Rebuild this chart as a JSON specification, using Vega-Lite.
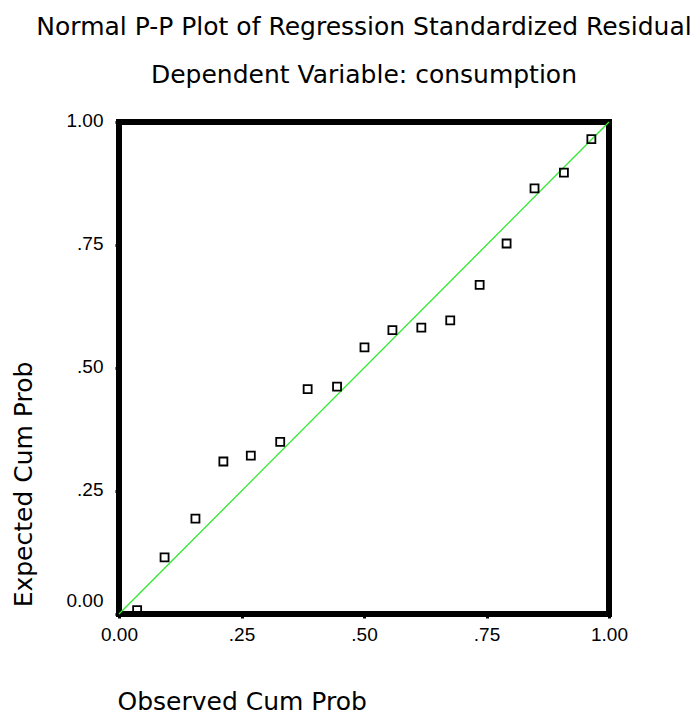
{
  "$schema": "https://vega.github.io/schema/vega-lite/v6.json",
  "width": 490,
  "height": 492,
  "autosize": {"type": "none"},
  "padding": {"left": 119, "top": 122, "right": 89, "bottom": 105},
  "background": "white",
  "title": {
    "text": ["Normal P-P Plot of Regression Standardized Residual", "Dependent Variable: consumption"],
    "anchor": "middle",
    "frame": "group",
    "font": "DejaVu Sans",
    "fontSize": 25,
    "fontWeight": "normal",
    "color": "black",
    "lineHeight": 48,
    "baseline": "alphabetic",
    "offset": 3
  },
  "config": {
    "view": {"stroke": "black", "strokeWidth": 6},
    "axis": {
      "labelFont": "Liberation Sans",
      "labelFontSize": 19,
      "labelColor": "black",
      "titleFont": "DejaVu Sans",
      "titleFontSize": 25,
      "titleFontWeight": "normal",
      "titleColor": "black",
      "grid": false,
      "domain": false,
      "tickColor": "black",
      "tickSize": 4,
      "tickWidth": 3
    }
  },
  "layer": [
    {
      "data": {"values": [{"x": 0, "y": 0}, {"x": 1, "y": 1}]},
      "mark": {"type": "line", "color": "#2ee82e", "strokeWidth": 1.3},
      "encoding": {
        "x": {"field": "x", "type": "quantitative"},
        "y": {"field": "y", "type": "quantitative"}
      }
    },
    {
      "data": {"values": [
        {"observed": 0.037, "expected": 0.008},
        {"observed": 0.093, "expected": 0.115},
        {"observed": 0.156, "expected": 0.194},
        {"observed": 0.213, "expected": 0.310},
        {"observed": 0.269, "expected": 0.322},
        {"observed": 0.329, "expected": 0.350},
        {"observed": 0.385, "expected": 0.457},
        {"observed": 0.445, "expected": 0.462},
        {"observed": 0.501, "expected": 0.542},
        {"observed": 0.558, "expected": 0.577},
        {"observed": 0.617, "expected": 0.582},
        {"observed": 0.676, "expected": 0.597},
        {"observed": 0.736, "expected": 0.669},
        {"observed": 0.791, "expected": 0.753},
        {"observed": 0.848, "expected": 0.865},
        {"observed": 0.908, "expected": 0.897},
        {"observed": 0.964, "expected": 0.965}
      ]},
      "mark": {"type": "point", "shape": "square", "filled": false, "stroke": "black", "strokeWidth": 1.8, "size": 64, "opacity": 1},
      "encoding": {
        "x": {
          "field": "observed", "type": "quantitative",
          "scale": {"domain": [0, 1], "nice": false, "zero": false},
          "axis": {
            "title": "Observed Cum Prob",
            "values": [0, 0.25, 0.5, 0.75, 1],
            "labelExpr": "datum.value == 0 ? '0.00' : datum.value == 1 ? '1.00' : replace(format(datum.value, '.2f'), '0.', '.')",
            "labelPadding": 7,
            "labelFlush": false,
            "labelOverlap": false,
            "titleAnchor": "start",
            "titleAlign": "left",
            "titleBaseline": "alphabetic",
            "titleX": -2,
            "titleY": 95
          }
        },
        "y": {
          "field": "expected", "type": "quantitative",
          "scale": {"domain": [0, 1], "nice": false, "zero": false},
          "axis": {
            "title": "Expected Cum Prob",
            "values": [0, 0.25, 0.5, 0.75, 1],
            "labelExpr": "datum.value == 0 ? '0.00' : datum.value == 1 ? '1.00' : replace(format(datum.value, '.2f'), '0.', '.')",
            "labelPadding": 12,
            "labelFlush": false,
            "labelOverlap": false,
            "labelOffset": {"condition": {"test": "datum.value == 0", "value": -14}, "value": -2},
            "titleAngle": -90,
            "titleAlign": "center",
            "titleBaseline": "alphabetic",
            "titleX": -88,
            "titleY": 362
          }
        }
      }
    }
  ]
}
